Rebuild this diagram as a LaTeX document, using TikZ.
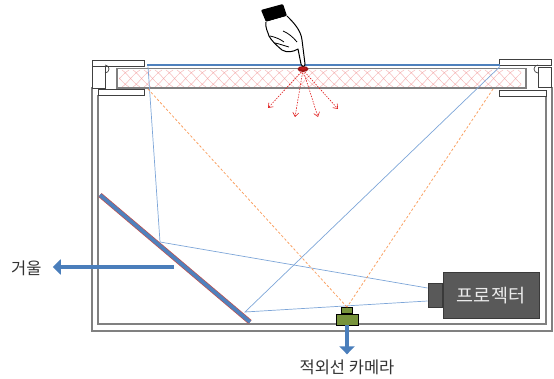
\documentclass[tikz,border=0pt]{standalone}
\usepackage{fontspec}
\newfontfamily\kr{Noto Sans CJK KR}
\usetikzlibrary{arrows.meta,calc}
\definecolor{wallgray}{HTML}{808080}
\definecolor{capgray}{HTML}{404040}
\definecolor{glassblue}{HTML}{4F81BD}
\definecolor{rayblue}{HTML}{7EA6D8}
\definecolor{irorange}{HTML}{F9A163}
\definecolor{mirrorred}{HTML}{C0504D}
\definecolor{projgray}{HTML}{595959}
\definecolor{projedge}{HTML}{3A3A3A}
\definecolor{camgreen}{HTML}{77933C}
\definecolor{arrowblue}{HTML}{4A7EBB}
\definecolor{touchred}{HTML}{E02020}
\definecolor{hatchred}{HTML}{F08080}
\tikzset{
  wall/.style={draw=wallgray, line width=1.6pt},
  capbox/.style={draw=capgray, line width=0.8pt, fill=white},
  ray/.style={draw=rayblue, line width=0.7pt},
  irray/.style={draw=irorange, line width=0.8pt, dash pattern=on 2.5pt off 2pt},
  spread/.style={draw=touchred, line width=0.6pt, dash pattern=on 1.5pt off 1.2pt, -{Straight Barb[length=4pt,width=6pt]}},
  callout/.style={draw=arrowblue, line width=3.2pt, -{Triangle[length=8pt,width=15pt]}},
  label/.style={font=\kr\fontsize{16.5}{19}\selectfont, text=black!80, inner sep=0pt},
  projbody/.style={draw=projedge, fill=projgray, line width=1pt, inner sep=0pt},
  cambox/.style={draw=black, fill=camgreen, line width=0.6pt, inner sep=0pt}
}
\begin{document}
\begin{tikzpicture}[x=1pt,y=-1pt]
\useasboundingbox (0,0) rectangle (554,379);

% housing walls (double lines)
\draw[wall] (92,87) -- (92,331) -- (552,331) -- (552,87);
\draw[wall] (98,95) -- (98,324) -- (546,324) -- (546,96);

% left frame pieces
\draw[capbox] (92,60) rectangle (144,66);
\draw[capbox] (92,66) rectangle (105,88);
\draw[capgray, line width=0.7pt] (105,73) arc[start angle=90, end angle=-90, radius=4];
\draw[capbox] (98,89) rectangle (144,95);

% right frame pieces
\draw[capbox] (499,59) rectangle (551,65);
\draw[capbox] (538,67) rectangle (551,87);
\draw[capgray, line width=0.7pt] (538,73) arc[start angle=90, end angle=270, radius=4];
\draw[capbox] (499,90) rectangle (546,96);

% acrylic panel with scattering hatch
\fill[white] (117,68.5) rectangle (526,88);
\begin{scope}
  \clip (119,70) rectangle (521,86.5);
  \foreach \i in {0,11,...,440} {
    \draw[hatchred, opacity=0.55, line width=0.5pt]
      (100+\i,70) .. controls (106+\i,74) and (110+\i,82) .. (118+\i,87);
    \draw[hatchred, opacity=0.55, line width=0.5pt]
      (100+\i,87) .. controls (106+\i,83) and (110+\i,75) .. (118+\i,70);
  }
\end{scope}
\draw[wallgray, line width=1.2pt] (117,68.5) rectangle (526,88);

% glass surface
\draw[glassblue, line width=2.2pt] (147,65.3) -- (500,65.3);

% ray end points
\coordinate (tl) at (148,66.5);
\coordinate (tr) at (500,66.5);
\coordinate (ml) at (160,242);
\coordinate (mr) at (245,312);
\coordinate (il) at (148,89);
\coordinate (ir) at (493,89);

% mirror
\coordinate (m1) at (100,195);
\coordinate (m2) at (250,322);
\draw[mirrorred, line width=5pt] (m1) -- (m2);
\draw[glassblue, line width=3.6pt] (m1) -- (m2);

% projector
\node[projbody, minimum width=96pt, minimum height=45pt] (proj) at (491,295.5)
  {\kr\fontsize{18.5}{21}\selectfont\color{white!92!black}프로젝터};
\node[projbody, minimum width=14pt, minimum height=23pt, anchor=east] (lens) at (proj.west) {};
\coordinate (lu) at ($(lens.west)+(0,-7.5)$);
\coordinate (ld) at ($(lens.west)+(0,5.5)$);

% infrared camera
\node[cambox, minimum width=22pt, minimum height=11pt] (cam) at (347,319.5) {};
\node[cambox, minimum width=11pt, minimum height=6pt, anchor=south] (camtop) at (cam.north) {};

% projection rays
\draw[ray] (tl) -- (ml) -- (lu);
\draw[ray] (tr) -- (mr) -- (ld);

% infrared sight lines
\draw[irray] (il) -- (camtop.north);
\draw[irray] (ir) -- (camtop.north);

% touch point and scattered light
\coordinate (touch) at (303,70);
\foreach \e in {(268,108),(295,117),(318,117),(338,109)}
  \draw[spread] (touch) -- \e;
\fill[touchred!70!black] (303,69) ellipse[x radius=5.5pt, y radius=3pt];
\fill[touchred, opacity=0.5] (303,68.5) ellipse[x radius=3pt, y radius=1.5pt];

% pointing hand
\fill[black, rounded corners=1pt] (261,10) -- (283,4) -- (287,16) -- (266,22) -- cycle;
\draw[black, line width=1pt, fill=white, line join=round]
  (266,22) .. controls (265,28) and (268,32) .. (269,36)
  .. controls (271,40) and (276,45) .. (282,50)
  .. controls (287,53) and (293,52) .. (298,49)
  -- (301,64) .. controls (302,67) and (305,67) .. (305,64)
  -- (302,40) .. controls (301,30) and (293,22) .. (287,16);
\draw[black, line width=0.8pt] (270,36) .. controls (275,37) and (280,39) .. (284,42);
\draw[black, line width=0.8pt] (275,43) .. controls (280,44) and (285,46) .. (289,47);
\draw[black, line width=0.8pt] (283,31) .. controls (288,33) and (293,37) .. (297,42);

% callouts
\node[label, anchor=west] (mirlbl) at (11,268) {거울};
\coordinate (mirpt) at (174,267);
\draw[callout] (mirpt) -- ($(mirlbl.east)+(11,-1)$);
\node[label] (camlbl) at (347,367) {적외선 카메라};
\draw[callout] (cam.south) -- ($(camlbl.north)+(0,-5)$);
\end{tikzpicture}
\end{document}
